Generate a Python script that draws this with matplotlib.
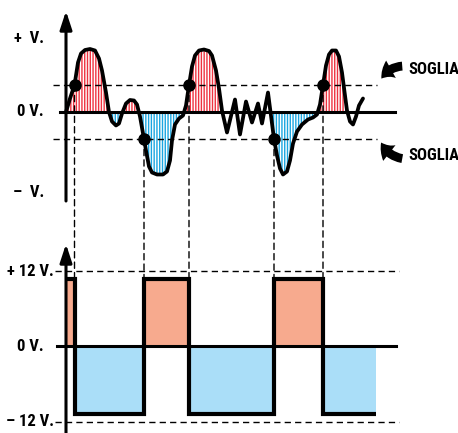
import matplotlib
matplotlib.use('Agg')
import matplotlib.pyplot as plt
import numpy as np
from matplotlib.patches import FancyArrowPatch, ConnectionPatch

W, H = 458, 433

# segnale d'ingresso: tempo (px) e ampiezza (0 = linea 0 V, soglia = +/-27)
t_sig = np.array([66, 70, 74.5, 78, 81, 85, 90, 95, 99, 102, 106, 109, 112, 116, 119,
                  122, 126, 130, 134, 137, 140, 144, 146, 149, 152, 157, 163, 167, 170,
                  172, 175, 179, 183, 186, 189, 192, 195, 199, 204, 209, 212, 216, 219,
                  222, 227, 235, 240, 246, 252, 258, 262, 268, 274, 277, 280, 283, 287,
                  290, 293, 297, 302, 308, 313, 317, 320, 323, 326, 329, 332, 336, 339,
                  342, 345, 347, 350, 353, 356, 359, 363])
v_sig = np.array([0, 13.5, 27, 49.5, 58.5, 62, 63, 61.5, 53.5, 41.5, 19.5, 0, -9.5, -13.5, -11.5,
                  -1.5, 8.5, 12, 11.5, 7.5, -4.5, -27, -38.5, -54.5, -60.5, -62.5, -62.5, -59.5, -48.5,
                  -28.5, -12.5, -6.5, -3.5, 6.5, 27, 45.5, 56.5, 61.5, 62.5, 61, 56.5, 41.5, 23.5,
                  1.5, -20.5, 12.5, -22.5, 10.5, -10.5, 8.5, -11.5, 19.5, -27, -43.5, -56.5, -62.5, -59.5,
                  -48.5, -31.5, -19.5, -12.5, -7.5, -5.5, -2.5, 7.5, 27, 46.5, 57.5, 61.5, 61.5, 55.5,
                  39.5, 16.5, 1.5, -9.5, -12.5, -4.5, 6.5, 13.5])
soglia = 27

# istanti in cui il segnale supera la soglia
t_cross = [74.5, 144, 189, 274, 323]
v_cross = [27, -27, 27, -27, 27]

# uscita ad onda quadra (V)
t_edges = [66, 74.5, 144, 189, 274, 323, 376]
v_out = [10.8, -10.8, 10.8, -10.8, 10.8, -10.8]

labels_top = ['+  V.', '0 V.', '\u2013  V.']
labels_top_v = [73.5, 0, -80.5]
labels_bot = ['+ 12 V.', '0 V.', '\u2013 12 V.']
labels_bot_v = [12, 0, -12]

RED = '#ee3340'
BLUE = '#1aa6e0'
SALMON = '#f7aa8e'
LBLUE = '#aadef8'
DASH = (0, (4.5, 3))

plt.rcParams['hatch.linewidth'] = 1.0
FONT = dict(fontsize=12, fontweight=900,
            family=['Roboto Condensed', 'Archivo Narrow', 'PT Sans Narrow', 'Liberation Sans Narrow',
                    'DejaVu Sans'])

fig = plt.figure(figsize=(W / 100, H / 100), dpi=100)


def make_ax(ylim):
    ax = fig.add_axes([0, 0, 1, 1])
    ax.set_xlim(0, W)
    ax.set_ylim(*ylim)
    ax.axis('off')
    ax.patch.set_alpha(0)
    return ax


ax_top = make_ax((112 - H, 112))
ax_bot = make_ax((-13.8, 55.16))
ax_px = make_ax((H, 0))

# --- grafico superiore ---
in_span = (t_sig <= 222) | ((t_sig >= 272) & (t_sig <= 348))
ax_top.fill_between(t_sig, v_sig, 0, where=in_span & (v_sig >= 0), interpolate=True,
                    facecolor='white', edgecolor=RED, hatch='||||||', lw=0)
ax_top.fill_between(t_sig, v_sig, 0, where=in_span & (v_sig <= 0), interpolate=True,
                    facecolor='white', edgecolor=BLUE, hatch='||||||', lw=0)
ax_top.plot([53, 377], [soglia, soglia], ls=DASH, lw=1, color='k')
ax_top.plot([53, 377], [-soglia, -soglia], ls=DASH, lw=1, color='k')
ax_top.plot([60, 395], [0, 0], lw=2.2, color='k')
ax_top.plot(t_sig, v_sig, lw=2.7, color='k', solid_joinstyle='round', solid_capstyle='round')
ax_top.plot(t_cross, v_cross, 'o', ms=8, color='k')
for lab, v in zip(labels_top, labels_top_v):
    ax_top.text(44, v, lab, ha='right', va='center', **FONT)

# --- grafico inferiore ---
ax_bot.bar(t_edges[:-1], v_out, width=np.diff(t_edges), align='edge',
           color=[SALMON if v > 0 else LBLUE for v in v_out], lw=0)
ax_bot.plot([55, 399], [12, 12], ls=DASH, lw=1, color='k')
ax_bot.plot([55, 399], [-12, -12], ls=DASH, lw=1, color='k')
ax_bot.plot([57, 396], [0, 0], lw=2.2, color='k')
ax_bot.stairs(v_out, t_edges, baseline=None, lw=3, color='k')
for lab, v in zip(labels_bot, labels_bot_v):
    ax_bot.text(54 if v != 0 else 44, v, lab, ha='right', va='center', **FONT)

# linee di proiezione tratteggiate
for t, v in zip(t_cross, v_cross):
    con = ConnectionPatch(xyA=(t, v), coordsA=ax_top.transData, xyB=(t, v_out[0]),
                          coordsB=ax_bot.transData, ls=DASH, lw=1, color='k')
    fig.add_artist(con)

# assi verticali con freccia
arrow = dict(arrowstyle='-|>,head_length=1.1,head_width=0.36', lw=2.2, color='k',
             shrinkA=0, shrinkB=0)
ax_px.annotate('', xy=(66, 11), xytext=(66, 201), arrowprops=arrow)
ax_px.annotate('', xy=(66, 244), xytext=(66, 433), arrowprops=arrow)

# etichette SOGLIA
for y_txt, tail, head, rad in [(70, (405, 66), (380, 81), 0.3), (155, (405, 159), (380, 140), -0.3)]:
    ax_px.add_patch(FancyArrowPatch(tail, head, connectionstyle='arc3,rad=%s' % rad,
                                    arrowstyle='simple,head_length=0.6,head_width=0.9,tail_width=0.4',
                                    mutation_scale=16, color='k', lw=0))
    ax_px.text(408, y_txt, 'SOGLIA', ha='left', va='center', **FONT)

fig.savefig('out.png', dpi=100)
